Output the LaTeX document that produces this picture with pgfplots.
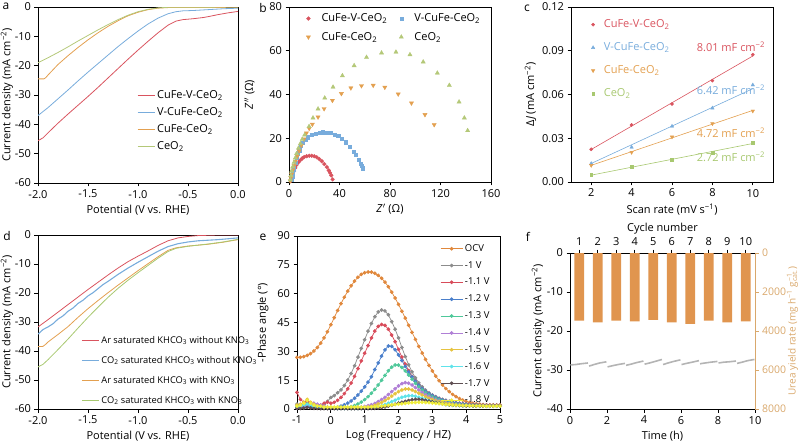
\documentclass[border=0pt]{standalone}
\usepackage{pgfplots}
\pgfplotsset{compat=1.18}
\usepackage{pgfplotstable}
\usepackage{fontspec}
\setmainfont{Open Sans}
\setsansfont{Open Sans}
\newcommand\fs[1]{\fontsize{#1}{#1}\selectfont}
\definecolor{cRed}{HTML}{D9545F}
\definecolor{cBlue}{HTML}{78ACDC}
\definecolor{cOrange}{HTML}{E3A050}
\definecolor{cGreen}{HTML}{B4C878}
\definecolor{dGreen}{HTML}{A8C870}
\definecolor{eOCV}{HTML}{E0883C}
\definecolor{eA}{HTML}{8C8C8C}
\definecolor{eB}{HTML}{D84B5A}
\definecolor{eC}{HTML}{4A7FCB}
\definecolor{eD}{HTML}{4FC89A}
\definecolor{eE}{HTML}{B07FD6}
\definecolor{eF}{HTML}{E6C340}
\definecolor{eG}{HTML}{5FE3EA}
\definecolor{eH}{HTML}{5E4E52}
\definecolor{eI}{HTML}{F0EE3C}
\definecolor{barc}{HTML}{E0954F}
\definecolor{tan}{HTML}{D9A86C}
\definecolor{fgray}{HTML}{B4B4B4}
\pgfplotsset{
  base/.style={scale only axis, anchor=south west, tick align=outside, tick pos=left,
    major tick length=3.5pt, axis line style={line width=0.7pt},
    every tick/.style={line width=0.7pt, black},
    tick label style={font=\fs{11}}, label style={font=\fs{11}},
    /pgf/number format/assume math mode=true,
    legend cell align=left},
  elin/.style={line width=0.7pt, mark=*, mark size=1.5pt}
}
\pgfplotstableread{
x ocv a b c d e f g h i
-1.0 26.8 2.5 8.6 1.0 1.5 0.5 2.0 1.0 0.5 1.5
-0.9 26.9 1.5 5.0 1.5 1.0 1.0 2.5 1.5 0.3 2.0
-0.8 27.3 2.0 3.5 1.0 2.0 1.5 3.5 2.0 0.5 3.0
-0.7 27.9 3.0 4.0 1.5 2.5 2.0 5.0 2.5 0.8 4.5
-0.6 28.8 2.0 2.5 1.0 2.0 2.5 3.5 2.0 0.5 3.0
-0.5 30.2 1.5 2.0 0.8 1.5 3.0 2.5 1.5 0.3 2.0
-0.4 32.0 1.0 1.5 1.0 1.0 2.5 1.5 1.0 0.3 1.5
-0.3 34.3 1.5 2.0 0.8 0.8 2.0 1.0 0.8 0.2 1.5
-0.2 37.0 2.5 3.0 0.6 0.5 1.5 1.0 0.5 0.2 1.0
-0.1 40.2 4.0 3.5 0.5 0.5 1.0 0.8 0.5 0.2 1.0
0.0 43.8 6.0 3.0 0.5 0.5 0.8 0.8 0.5 0.2 1.0
0.1 47.5 7.0 3.5 0.6 0.5 0.6 0.6 0.4 0.2 1.0
0.2 51.2 8.5 4.5 1.0 0.5 0.5 0.5 0.3 0.2 1.0
0.3 54.8 10.0 6.0 1.5 0.5 0.5 0.5 0.3 0.2 1.0
0.4 58.2 12.2 8.0 2.2 0.6 0.4 0.4 0.3 0.2 1.0
0.5 61.3 15.0 10.5 3.0 0.8 0.4 0.4 0.3 0.2 1.0
0.6 64.1 18.5 13.5 4.2 1.2 0.5 0.4 0.3 0.2 1.0
0.7 66.5 22.5 17.0 5.6 1.8 0.6 0.5 0.3 0.2 1.0
0.8 68.5 27.0 21.0 7.3 2.6 0.8 0.5 0.3 0.2 1.0
0.9 70.0 31.5 25.0 9.3 3.6 1.0 0.6 0.3 0.2 1.0
1.0 70.9 36.0 29.0 11.5 4.9 1.3 0.7 0.4 0.2 1.0
1.1 71.3 40.5 33.0 14.0 6.4 1.7 0.9 0.4 0.2 1.0
1.2 71.2 44.5 37.0 16.8 8.2 2.2 1.3 0.5 0.3 1.1
1.3 70.6 48.0 40.5 20.5 10.2 2.9 1.9 0.8 0.3 1.2
1.4 69.5 50.5 43.0 24.0 12.5 3.8 2.6 1.2 0.5 1.3
1.5 68.0 51.5 44.0 27.5 15.0 4.9 3.4 1.7 0.8 1.5
1.6 66.0 51.0 43.5 30.8 17.5 6.1 4.4 2.3 1.1 1.7
1.7 63.6 49.0 41.5 32.8 19.9 7.5 5.5 3.0 1.5 1.9
1.8 60.8 45.5 38.5 32.6 21.8 9.0 6.7 3.8 2.0 2.1
1.9 57.7 41.5 35.0 30.8 22.9 10.5 7.9 4.6 2.5 2.3
2.0 54.4 37.0 31.0 28.2 22.8 12.0 9.0 5.4 3.0 2.5
2.1 50.9 32.0 27.0 25.2 21.6 13.2 9.9 6.1 3.5 2.7
2.2 47.3 27.3 23.3 22.2 19.8 13.7 10.4 6.6 4.0 2.9
2.3 43.6 23.0 20.0 19.3 17.7 13.4 10.4 6.9 4.4 3.1
2.4 39.9 19.3 17.0 16.7 15.5 12.5 9.9 6.9 4.8 3.3
2.5 36.2 16.2 14.5 14.4 13.4 11.2 9.1 6.6 5.0 3.4
2.6 32.6 13.6 12.4 12.4 11.5 9.9 8.2 6.1 5.0 3.5
2.7 29.1 11.5 10.6 10.7 9.9 8.6 7.3 5.5 4.8 3.5
2.8 25.8 9.8 9.1 9.2 8.5 7.4 6.4 4.9 4.5 3.4
2.9 22.7 8.4 7.9 8.0 7.3 6.4 5.6 4.3 4.1 3.3
3.0 19.8 7.3 6.9 7.0 6.3 5.5 4.9 3.8 3.7 3.1
3.1 17.1 6.4 6.0 6.1 5.5 4.8 4.3 3.4 3.3 2.9
3.2 14.7 5.6 5.3 5.3 4.8 4.2 3.8 3.0 3.0 2.8
3.3 12.5 5.0 4.7 4.7 4.2 3.7 3.4 2.7 2.7 2.6
3.4 10.6 4.5 4.2 4.2 3.7 3.3 3.0 2.4 2.4 2.4
3.5 9.0 4.0 3.8 3.8 3.3 2.9 2.7 2.2 2.2 2.3
3.6 7.6 3.6 3.4 3.4 2.9 2.6 2.4 2.0 2.0 2.1
3.7 6.4 3.3 3.1 3.1 2.6 2.4 2.2 1.9 1.9 2.0
3.8 5.4 3.0 2.9 2.8 2.4 2.2 2.0 1.8 1.8 1.9
3.9 4.6 2.8 2.7 2.6 2.2 2.0 1.9 1.7 1.7 1.8
4.0 3.9 2.6 2.5 2.4 2.0 1.9 1.8 1.7 1.6 1.8
4.1 3.4 2.4 2.4 2.2 1.9 1.8 1.7 1.6 1.6 1.7
4.2 3.0 2.3 2.3 2.1 1.8 1.7 1.7 1.6 1.6 1.7
4.3 2.7 2.2 2.2 2.0 1.8 1.7 1.6 1.6 1.5 1.6
4.4 2.5 2.1 2.1 1.9 1.7 1.6 1.6 1.5 1.5 1.6
4.5 2.3 2.0 2.0 1.8 1.7 1.6 1.6 1.5 1.5 1.6
4.6 2.2 2.0 2.0 1.8 1.6 1.6 1.5 1.5 1.5 1.5
4.7 2.1 1.9 1.9 1.7 1.6 1.5 1.5 1.5 1.5 1.5
4.8 2.1 1.9 1.9 1.7 1.6 1.5 1.5 1.5 1.5 1.5
4.9 2.1 1.9 1.9 1.7 1.6 1.5 1.5 1.5 1.5 1.5
5.0 2.2 1.9 1.9 1.7 1.6 1.5 1.5 1.5 1.5 1.5
}\phasetable
\begin{document}
\begin{tikzpicture}
\useasboundingbox (0pt,0pt) rectangle (800pt,442pt);
% panel labels
\node[font=\fs{12}] at (6pt,436pt) {a};
\node[font=\fs{12}] at (263pt,434pt) {b};
\node[font=\fs{12}] at (527pt,434pt) {c};
\node[font=\fs{12}] at (7pt,206pt) {d};
\node[font=\fs{12}] at (263pt,205pt) {e};
\node[font=\fs{12}] at (528pt,205pt) {f};

% ---------- a ----------
\begin{axis}[base, at={(38pt,259pt)}, width=200pt, height=176pt,
  xmin=-2, xmax=0, ymin=-60, ymax=0,
  xtick={-2,-1.5,-1,-0.5,0}, ytick={-60,-50,-40,-30,-20,-10,0},
  xticklabel style={/pgf/number format/fixed,/pgf/number format/fixed zerofill,/pgf/number format/precision=1},
  xlabel={Potential (V vs. RHE)}, ylabel={Current density (mA cm\textsuperscript{−2})}, ylabel shift=-5pt,
  legend style={draw=none, fill=none, at={(0.48,0.55)}, anchor=north west, font=\fs{11}, row sep=3.5pt}]
\addplot[cRed, line width=0.8pt] coordinates {(-2.00,-45.6)(-1.95,-44.6)(-1.90,-42.9)(-1.80,-39.6)(-1.70,-36.5)(-1.60,-33.5)(-1.50,-30.5)(-1.40,-27.4)(-1.30,-24.2)(-1.20,-21.0)(-1.10,-17.8)(-1.00,-14.7)(-0.90,-11.7)(-0.80,-8.8)(-0.70,-6.2)(-0.62,-4.8)(-0.55,-4.3)(-0.45,-4.0)(-0.35,-3.6)(-0.30,-3.3)(-0.20,-2.6)(-0.10,-2.0)(0.00,-1.5)};
\addlegendentry{CuFe-V-CeO\textsubscript{2}}
\addplot[cBlue, line width=0.8pt] coordinates {(-2.00,-37.0)(-1.90,-34.3)(-1.80,-31.3)(-1.70,-28.3)(-1.60,-25.2)(-1.50,-22.2)(-1.40,-19.3)(-1.30,-16.4)(-1.20,-13.5)(-1.10,-10.8)(-1.00,-8.2)(-0.90,-5.8)(-0.80,-3.8)(-0.70,-2.3)(-0.62,-1.6)(-0.55,-1.3)(-0.45,-1.2)(-0.30,-0.9)(-0.15,-0.6)(0.00,-0.4)};
\addlegendentry{V-CuFe-CeO\textsubscript{2}}
\addplot[cOrange, line width=0.8pt] coordinates {(-2.00,-24.5)(-1.94,-24.5)(-1.92,-24.0)(-1.90,-23.2)(-1.85,-21.4)(-1.80,-19.6)(-1.70,-16.6)(-1.60,-13.8)(-1.50,-11.2)(-1.40,-8.8)(-1.30,-6.6)(-1.20,-4.7)(-1.10,-3.0)(-1.00,-1.8)(-0.90,-0.9)(-0.80,-0.4)(-0.70,-0.2)(0.00,-0.1)};
\addlegendentry{CuFe-CeO\textsubscript{2}}
\addplot[cGreen, line width=0.8pt] coordinates {(-2.00,-19.0)(-1.90,-17.3)(-1.80,-15.5)(-1.70,-13.6)(-1.60,-11.6)(-1.50,-9.7)(-1.40,-7.8)(-1.30,-6.0)(-1.20,-4.3)(-1.10,-2.8)(-1.00,-1.6)(-0.90,-0.8)(-0.80,-0.3)(-0.70,-0.1)(0.00,0.0)};
\addlegendentry{CeO\textsubscript{2}}
\end{axis}

% ---------- b ----------
\begin{axis}[base, at={(289pt,260pt)}, width=202pt, height=175pt,
  xmin=0, xmax=160, ymin=0, ymax=80,
  xtick={0,40,80,120,160}, ytick={0,20,40,60,80},
  xlabel={\textit{Z}$'$ (Ω)}, ylabel={\textit{Z}$''$ (Ω)}, ylabel shift=8pt,
  legend columns=2,
  legend style={draw=none, fill=none, at={(0.07,0.985)}, anchor=north west, font=\fs{11}, row sep=5pt,
    /tikz/every even column/.append style={column sep=10pt},
    /tikz/every odd column/.append style={column sep=9pt}}]
\addplot[only marks, mark=*, mark size=1.9pt, cRed] coordinates {(1.5,0.5)(2,1.5)(2.5,2.5)(3,3.5)(4,5)(5,6.5)(6,7.8)(7.5,9)(9,10)(10.5,10.8)(12,11.4)(14,11.8)(16,12)(18,12)(20,11.8)(22,11.3)(24,10.5)(26,9.5)(28,8.2)(30,6.8)(31.5,5.3)(32.5,4.2)(33.5,3)(34.5,1.2)};
\addlegendentry{CuFe-V-CeO\textsubscript{2}}
\addplot[only marks, mark=square*, mark size=1.6pt, cBlue] coordinates {(2,1)(2.5,2.5)(3,4)(3.5,5.5)(4,7)(5,9)(6,11)(7,13)(8,14.5)(9.5,16.5)(11,18)(13,19.5)(15,20.5)(18,21.5)(21,22.2)(24,22.6)(27,22.8)(30,22.7)(33,22.4)(36,21.8)(39,21)(42,19.8)(45,18.2)(48,16.3)(51,14)(53,12.3)(55,10.3)(56.5,8.5)(57.5,7.3)(58.5,6.3)};
\addlegendentry{V-CuFe-CeO\textsubscript{2}}
\addplot[only marks, mark=triangle*, mark size=2.4pt, mark options={rotate=180}, cOrange] coordinates {(1,0.5)(1.5,2)(2,3.5)(3,5.5)(4,7.5)(5,9.5)(6.5,11.8)(8,14.2)(9.8,16.8)(11.8,19.6)(13.8,22.4)(16,24.5)(18.5,26.4)(23,29.7)(27.8,33.5)(34.4,37.3)(41.5,40.4)(49,43)(57.4,44)(66.7,44.2)(75.9,43.3)(86.5,40.2)(97,36.1)(107.7,30.8)(115,26.2)};
\addlegendentry{CuFe-CeO\textsubscript{2}}
\addplot[only marks, mark=triangle*, mark size=2.4pt, cGreen] coordinates {(1,1)(1.5,3)(2,5)(3,7)(4,9)(5,11)(6,13)(7.5,15.5)(9,17.5)(10.5,19.5)(12.4,21.5)(15.9,25.4)(19,29.3)(23,33.4)(28.3,38.4)(34.9,43.4)(42.3,48.6)(51.6,53.2)(61.4,57)(73.3,59)(84.7,59.4)(95.8,58.2)(106.3,54.9)(117.5,49.8)(127,44.2)(134.7,36.6)(138.9,29.3)(141.5,23.5)};
\addlegendentry{CeO\textsubscript{2}}
\end{axis}

% ---------- c ----------
\begin{axis}[base, at={(571pt,260pt)}, width=202pt, height=175pt,
  xmin=1, xmax=11, ymin=0, ymax=0.12,
  xtick={2,4,6,8,10}, ytick={0,0.03,0.06,0.09,0.12}, scaled y ticks=false,
  yticklabel style={/pgf/number format/fixed,/pgf/number format/fixed zerofill,/pgf/number format/precision=2},
  xlabel={Scan rate (mV s\textsuperscript{−1})}, ylabel={Δ\textit{J} (mA cm\textsuperscript{−2})}, ylabel shift=-1pt,
  legend style={draw=none, fill=none, at={(0.085,0.95)}, anchor=north west, font=\fs{11}, row sep=9.5pt,
    /tikz/every odd column/.append style={column sep=7pt}}]
\addplot[only marks, mark=*, mark size=1.6pt, cRed] coordinates {(2,0.0224)(4,0.0391)(6,0.0535)(8,0.0695)(10,0.0873)};
\addlegendentry{\textcolor{cRed}{CuFe-V-CeO\textsubscript{2}}}
\addplot[only marks, mark=triangle*, mark size=2pt, cBlue] coordinates {(2,0.0126)(4,0.0238)(6,0.0382)(8,0.0507)(10,0.0665)};
\addlegendentry{\textcolor{cBlue}{V-CuFe-CeO\textsubscript{2}}}
\addplot[only marks, mark=triangle*, mark size=2pt, mark options={rotate=180}, cOrange] coordinates {(2,0.0114)(4,0.0203)(6,0.0309)(8,0.040)(10,0.0487)};
\addlegendentry{\textcolor{cOrange}{CuFe-CeO\textsubscript{2}}}
\addplot[only marks, mark=square*, mark size=1.4pt, dGreen] coordinates {(2,0.0050)(4,0.0107)(6,0.0153)(8,0.0199)(10,0.0272)};
\addlegendentry{\textcolor{dGreen}{CeO\textsubscript{2}}}
\addplot[cRed, line width=0.6pt, forget plot] coordinates {(2,0.0223)(10,0.0864)};
\addplot[cBlue, line width=0.6pt, forget plot] coordinates {(2,0.0127)(10,0.0640)};
\addplot[cOrange, line width=0.6pt, forget plot] coordinates {(2,0.0114)(10,0.0491)};
\addplot[dGreen, line width=0.6pt, forget plot] coordinates {(2,0.0047)(10,0.0264)};
\node[anchor=east, text=cRed, font=\fs{11}] at (axis cs:10.78,0.093) {8.01 mF cm\textsuperscript{−2}};
\node[anchor=east, text=cBlue, font=\fs{11}] at (axis cs:10.78,0.0635) {6.42 mF cm\textsuperscript{−2}};
\node[anchor=east, text=cOrange, font=\fs{11}] at (axis cs:10.78,0.0335) {4.72 mF cm\textsuperscript{−2}};
\node[anchor=east, text=dGreen, font=\fs{11}] at (axis cs:10.78,0.0176) {2.72 mF cm\textsuperscript{−2}};
\end{axis}

% ---------- d ----------
\begin{axis}[base, at={(38pt,33pt)}, width=200pt, height=174pt,
  xmin=-2, xmax=0, ymin=-60, ymax=0,
  xtick={-2,-1.5,-1,-0.5,0}, ytick={-60,-50,-40,-30,-20,-10,0},
  xticklabel style={/pgf/number format/fixed,/pgf/number format/fixed zerofill,/pgf/number format/precision=1},
  xlabel={Potential (V vs. RHE)}, ylabel={Current density (mA cm\textsuperscript{−2})}, ylabel shift=-5pt,
  legend style={draw=none, fill=none, at={(0.2,0.0)}, anchor=south west, font=\fs{9.3}, row sep=7.5pt}]
\addplot[cRed, line width=0.8pt] coordinates {(-2.00,-31.7)(-1.90,-29.2)(-1.80,-26.6)(-1.70,-24.0)(-1.60,-21.4)(-1.50,-18.8)(-1.40,-16.3)(-1.30,-13.8)(-1.20,-11.4)(-1.10,-9.2)(-1.00,-7.3)(-0.90,-5.5)(-0.80,-3.6)(-0.70,-2.0)(-0.60,-1.0)(-0.50,-0.5)(-0.40,-0.2)(-0.20,0.0)(0.00,0.0)};
\addlegendentry{Ar saturated KHCO\textsubscript{3} without KNO\textsubscript{3}}
\addplot[cBlue, line width=1.1pt] coordinates {(-2.00,-34.2)(-1.95,-32.6)(-1.90,-31.7)(-1.85,-30.6)(-1.80,-29.0)(-1.75,-27.9)(-1.70,-26.3)(-1.65,-25.2)(-1.60,-23.6)(-1.55,-22.5)(-1.50,-21.0)(-1.45,-19.9)(-1.40,-18.5)(-1.35,-17.1)(-1.30,-16.0)(-1.20,-13.6)(-1.10,-11.4)(-1.00,-9.4)(-0.90,-7.5)(-0.80,-5.6)(-0.70,-4.0)(-0.60,-3.0)(-0.50,-2.4)(-0.40,-2.0)(-0.20,-1.6)(0.00,-1.0)};
\addlegendentry{CO\textsubscript{2} saturated KHCO\textsubscript{3} without KNO\textsubscript{3}}
\addplot[cOrange, line width=0.8pt] coordinates {(-2.00,-38.5)(-1.95,-38.4)(-1.92,-37.6)(-1.90,-36.9)(-1.80,-34.3)(-1.70,-31.6)(-1.60,-28.4)(-1.50,-25.4)(-1.40,-22.6)(-1.30,-19.9)(-1.20,-17.3)(-1.10,-14.8)(-1.00,-12.3)(-0.90,-9.9)(-0.80,-7.5)(-0.70,-5.3)(-0.62,-4.4)(-0.50,-3.8)(-0.40,-3.5)(-0.30,-3.2)(-0.15,-2.5)(0.00,-1.6)};
\addlegendentry{Ar saturated KHCO\textsubscript{3} with KNO\textsubscript{3}}
\addplot[dGreen, line width=0.8pt] coordinates {(-2.00,-45.5)(-1.95,-44.6)(-1.90,-43.0)(-1.80,-39.5)(-1.70,-35.9)(-1.60,-32.1)(-1.50,-28.4)(-1.40,-24.9)(-1.30,-21.5)(-1.20,-18.4)(-1.10,-15.6)(-1.00,-13.0)(-0.90,-10.5)(-0.80,-8.0)(-0.70,-5.7)(-0.62,-4.6)(-0.50,-3.9)(-0.40,-3.5)(-0.30,-3.1)(-0.15,-2.4)(0.00,-1.5)};
\addlegendentry{CO\textsubscript{2} saturated KHCO\textsubscript{3} with KNO\textsubscript{3}}
\end{axis}

% ---------- e ----------
\begin{axis}[base, at={(297pt,33pt)}, width=203pt, height=173pt,
  xmin=-1, xmax=5, ymin=0, ymax=90,
  xtick={-1,0,1,2,3,4,5}, ytick={0,15,30,45,60,75,90},
  xlabel={Log (Frequency / HZ)}, ylabel={-Phase angle (°)}, ylabel shift=2pt,
  legend image code/.code={\draw[mark repeat=2,mark phase=2,#1] plot coordinates {(0pt,0pt) (11pt,0pt) (22pt,0pt)};},
  legend style={draw=none, fill=none, at={(0.69,0.975)}, anchor=north west, font=\fs{9.5}, row sep=4.5pt}]
\addplot[elin, eOCV] table[x=x, y=ocv] {\phasetable}; \addlegendentry{OCV}
\addplot[elin, eA] table[x=x, y=a] {\phasetable}; \addlegendentry{-1 V}
\addplot[elin, eB] table[x=x, y=b] {\phasetable}; \addlegendentry{-1.1 V}
\addplot[elin, eC] table[x=x, y=c] {\phasetable}; \addlegendentry{-1.2 V}
\addplot[elin, eD] table[x=x, y=d] {\phasetable}; \addlegendentry{-1.3 V}
\addplot[elin, eE] table[x=x, y=e] {\phasetable}; \addlegendentry{-1.4 V}
\addplot[elin, eF] table[x=x, y=f] {\phasetable}; \addlegendentry{-1.5 V}
\addplot[elin, eG] table[x=x, y=g] {\phasetable}; \addlegendentry{-1.6 V}
\addplot[elin, eH] table[x=x, y=h] {\phasetable}; \addlegendentry{-1.7 V}
\addplot[elin, eI] table[x=x, y=i] {\phasetable}; \addlegendentry{-1.8 V}
\end{axis}

% ---------- f ----------
\begin{axis}[base, at={(570pt,33pt)}, width=185pt, height=156pt,
  xmin=0, xmax=10, ymin=-40, ymax=0,
  axis x line*=bottom, axis y line*=left,
  xtick pos=left, ytick pos=left, xticklabel pos=left, yticklabel pos=left,
  xtick={0,2,4,6,8,10}, ytick={-40,-30,-20,-10,0},
  xlabel={Time (h)}, ylabel={Current density (mA cm\textsuperscript{−2})}, ylabel shift=-4pt]
\addplot[fgray, line width=1.6pt] coordinates {(0.02,-28.7)(0.3,-28.6)(0.6,-28.4)(0.97,-28.2)};
\addplot[fgray, line width=1.6pt] coordinates {(1.03,-29.0)(1.3,-28.6)(1.6,-28.2)(1.97,-27.9)};
\addplot[fgray, line width=1.6pt] coordinates {(2.03,-29.2)(2.3,-28.9)(2.6,-28.6)(2.97,-28.3)};
\addplot[fgray, line width=1.6pt] coordinates {(3.03,-28.8)(3.3,-28.5)(3.6,-28.1)(3.97,-27.7)};
\addplot[fgray, line width=1.6pt] coordinates {(4.03,-28.5)(4.3,-28.2)(4.6,-27.8)(4.97,-27.3)};
\addplot[fgray, line width=1.6pt] coordinates {(5.03,-28.6)(5.3,-28.2)(5.6,-27.8)(5.97,-27.4)};
\addplot[fgray, line width=1.6pt] coordinates {(6.03,-28.6)(6.3,-28.3)(6.6,-28.0)(6.97,-27.6)};
\addplot[fgray, line width=1.6pt] coordinates {(7.03,-28.4)(7.3,-28.2)(7.6,-28.0)(7.97,-27.8)};
\addplot[fgray, line width=1.6pt] coordinates {(8.03,-28.2)(8.3,-28.0)(8.6,-27.9)(8.97,-27.7)};
\addplot[fgray, line width=1.6pt] coordinates {(9.03,-28.3)(9.3,-28.0)(9.6,-27.6)(9.97,-27.3)};
\end{axis}
\begin{axis}[base, at={(570pt,33pt)}, width=185pt, height=156pt,
  xmin=0, xmax=10, ymin=0, ymax=8000, y dir=reverse,
  axis x line*=top, axis y line*=right,
  xtick pos=right, ytick pos=right, xticklabel pos=right, yticklabel pos=right,
  xtick={0.5,1.5,2.5,3.5,4.5,5.5,6.5,7.5,8.5,9.5}, xticklabels={1,2,3,4,5,6,7,8,9,10},
  ytick={0,2000,4000,6000,8000},
  yticklabel style={text=tan, font=\fs{10.5}, /pgf/number format/1000 sep={}},
  y axis line style={tan}, ytick style={tan},
  xlabel={Cycle number}, xlabel shift=-3pt,
  ylabel={Urea yield rate (mg h\textsuperscript{−1} g\rlap{\textsuperscript{−1}}\textsubscript{cat.})},
  ylabel style={text=tan, font=\fs{10}}, ylabel shift=-6pt]
\addplot[ybar, bar width=0.52, fill=barc, draw=none] coordinates {(0.5,3470)(1.5,3555)(2.5,3470)(3.5,3500)(4.5,3435)(5.5,3555)(6.5,3640)(7.5,3470)(8.5,3555)(9.5,3500)};
\end{axis}
\end{tikzpicture}
\end{document}
